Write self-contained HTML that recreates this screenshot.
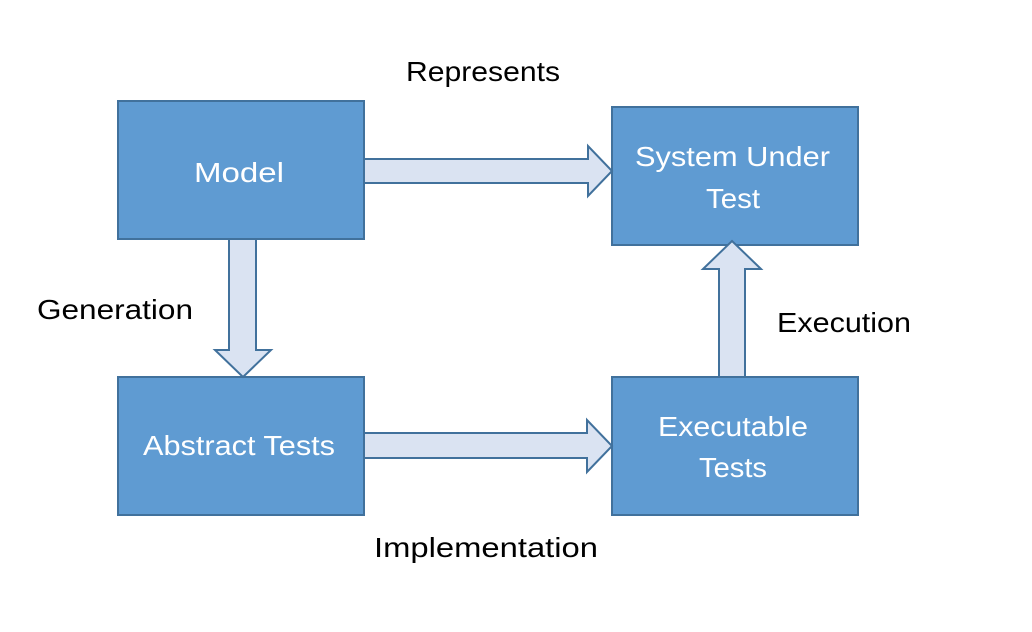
<!DOCTYPE html>
<html><head><meta charset="utf-8"><style>
html,body{margin:0;padding:0;background:#fff;}
svg{display:block;}
text{font-family:"Liberation Sans",sans-serif;font-size:28px;}
.w{fill:#fff;}
.b{fill:#000;}
</style></head><body>
<svg width="1032" height="632" viewBox="0 0 1032 632" xmlns="http://www.w3.org/2000/svg">
<g fill="#5f9bd2" stroke="#41719c" stroke-width="2">
<rect x="118" y="101" width="246" height="138"/>
<rect x="612" y="107" width="246" height="138"/>
<rect x="118" y="377" width="246" height="138"/>
<rect x="612" y="377" width="246" height="138"/>
</g>
<g fill="#dae3f2" stroke="#41719c" stroke-width="2" stroke-linejoin="miter">
<polygon points="364,159 588,159 588,146 612,171 588,196 588,183 364,183"/>
<polygon points="229,239 256,239 256,350 271,350 243,377 215,350 229,350"/>
<polygon points="364,433 587,433 587,420 612,446 587,472 587,458 364,458"/>
<polygon points="719,377 719,269 703,269 732,241 761,269 745,269 745,377"/>
</g>
<text class="w" x="194" y="182" textLength="90" lengthAdjust="spacingAndGlyphs">Model</text>
<text class="w" x="635" y="166" textLength="195" lengthAdjust="spacingAndGlyphs">System Under</text>
<text class="w" x="706" y="208" textLength="54" lengthAdjust="spacingAndGlyphs">Test</text>
<text class="w" x="143" y="455" textLength="192" lengthAdjust="spacingAndGlyphs">Abstract Tests</text>
<text class="w" x="658" y="436" textLength="150" lengthAdjust="spacingAndGlyphs">Executable</text>
<text class="w" x="699" y="477" textLength="68" lengthAdjust="spacingAndGlyphs">Tests</text>
<text class="b" x="406" y="81" textLength="154" lengthAdjust="spacingAndGlyphs">Represents</text>
<text class="b" x="37" y="319" textLength="156" lengthAdjust="spacingAndGlyphs">Generation</text>
<text class="b" x="777" y="332" textLength="134" lengthAdjust="spacingAndGlyphs">Execution</text>
<text class="b" x="374" y="557" textLength="224" lengthAdjust="spacingAndGlyphs">Implementation</text>
</svg>
</body></html>
